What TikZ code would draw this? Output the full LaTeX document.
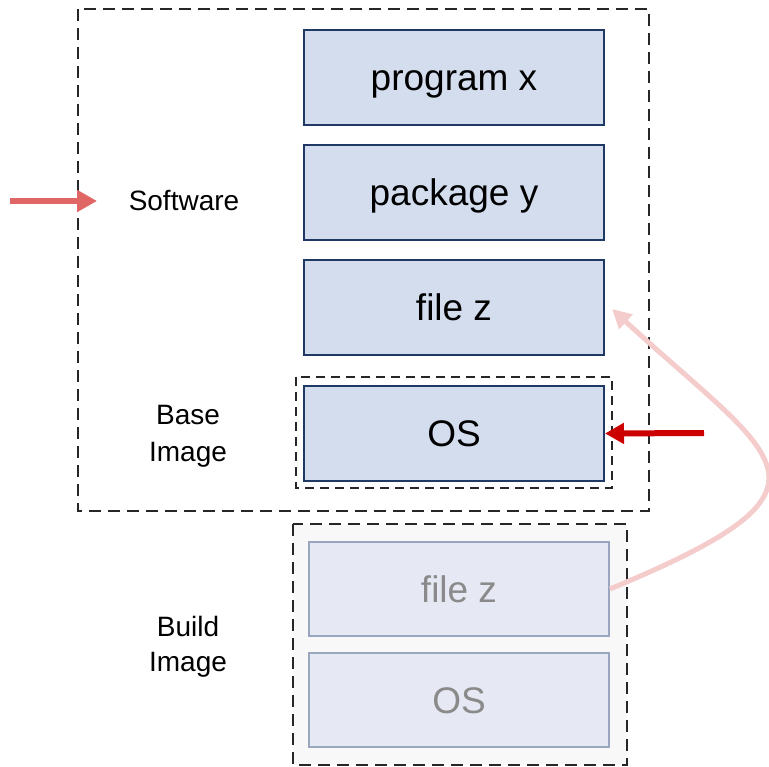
\documentclass[tikz,border=0pt]{standalone}
\usepackage{fontspec}
\setmainfont{Liberation Sans}
\usetikzlibrary{arrows.meta}
\definecolor{boxfill}{HTML}{D3DDEE}
\definecolor{boxdraw}{HTML}{1F3864}
\definecolor{ghostfill}{HTML}{E6E9F3}
\definecolor{ghostdraw}{HTML}{9AA6BF}
\definecolor{ghosttext}{HTML}{8A8A8A}
\definecolor{buildbg}{HTML}{F8F8F8}
\definecolor{softarrow}{HTML}{E06666}
\definecolor{osarrow}{HTML}{CC0000}
\definecolor{palearrow}{HTML}{F4CCCC}
\tikzset{
  layer/.style={draw=boxdraw, fill=boxfill, line width=2pt, minimum width=300pt, minimum height=95pt, inner sep=0pt, text height=27pt, text depth=1pt, font=\fontsize{37}{42}\selectfont, text=black},
  ghost/.style={draw=ghostdraw, fill=ghostfill, line width=2pt, minimum width=300pt, minimum height=94pt, inner sep=0pt, text height=27pt, text depth=1pt, font=\fontsize{37}{42}\selectfont, text=ghosttext},
  frame/.style={draw=black!85, line width=2pt, dash pattern=on 12pt off 7pt},
  sideleb/.style={font=\fontsize{28}{36}\selectfont, align=center, text=black}
}
\begin{document}
\begin{tikzpicture}[x=1pt,y=-1pt]
\useasboundingbox (0,0) rectangle (769,767);
% frames
\draw[frame] (78,9) rectangle (649,511);
\draw[frame, fill=buildbg] (293,524) rectangle (627,765);
\draw[frame, dash pattern=on 9pt off 6pt] (296,377) rectangle (612,488);
% layers
\node[layer] (prog) at (454,77.5) {program x};
\node[layer] (pkg) at (454,192.5) {package y};
\node[layer] (file) at (454,308) {file z};
\node[layer] (os) at (454,433.5) {OS};
\node[ghost] (gfile) at (459,589) {file z};
\node[ghost] (gos) at (459,700) {OS};
% labels
\node[sideleb] (sw) at (184,201) {Software};
\node[sideleb, font=\fontsize{28}{37}\selectfont] (base) at (188,436) {Base\\Image};
\node[sideleb, font=\fontsize{28}{35}\selectfont] (build) at (188,647) {Build\\Image};
% arrows
\coordinate (swstart) at (10,201);
\coordinate (swend) at (97,201);
\draw[softarrow, line width=6pt, -{Triangle[length=20pt,width=21pt]}] (swstart) -- (swend);
\coordinate (osstart) at (704,433);
\draw[osarrow, line width=6pt, -{Triangle[length=19pt,width=20pt]}] (osstart) -- (os.east);
\draw[palearrow, line width=5pt, -{Triangle[length=19pt,width=19pt]}] (gfile.east) .. controls (858,486) and (778,462) .. ([xshift=7pt,yshift=-1pt]file.east);
\end{tikzpicture}
\end{document}
